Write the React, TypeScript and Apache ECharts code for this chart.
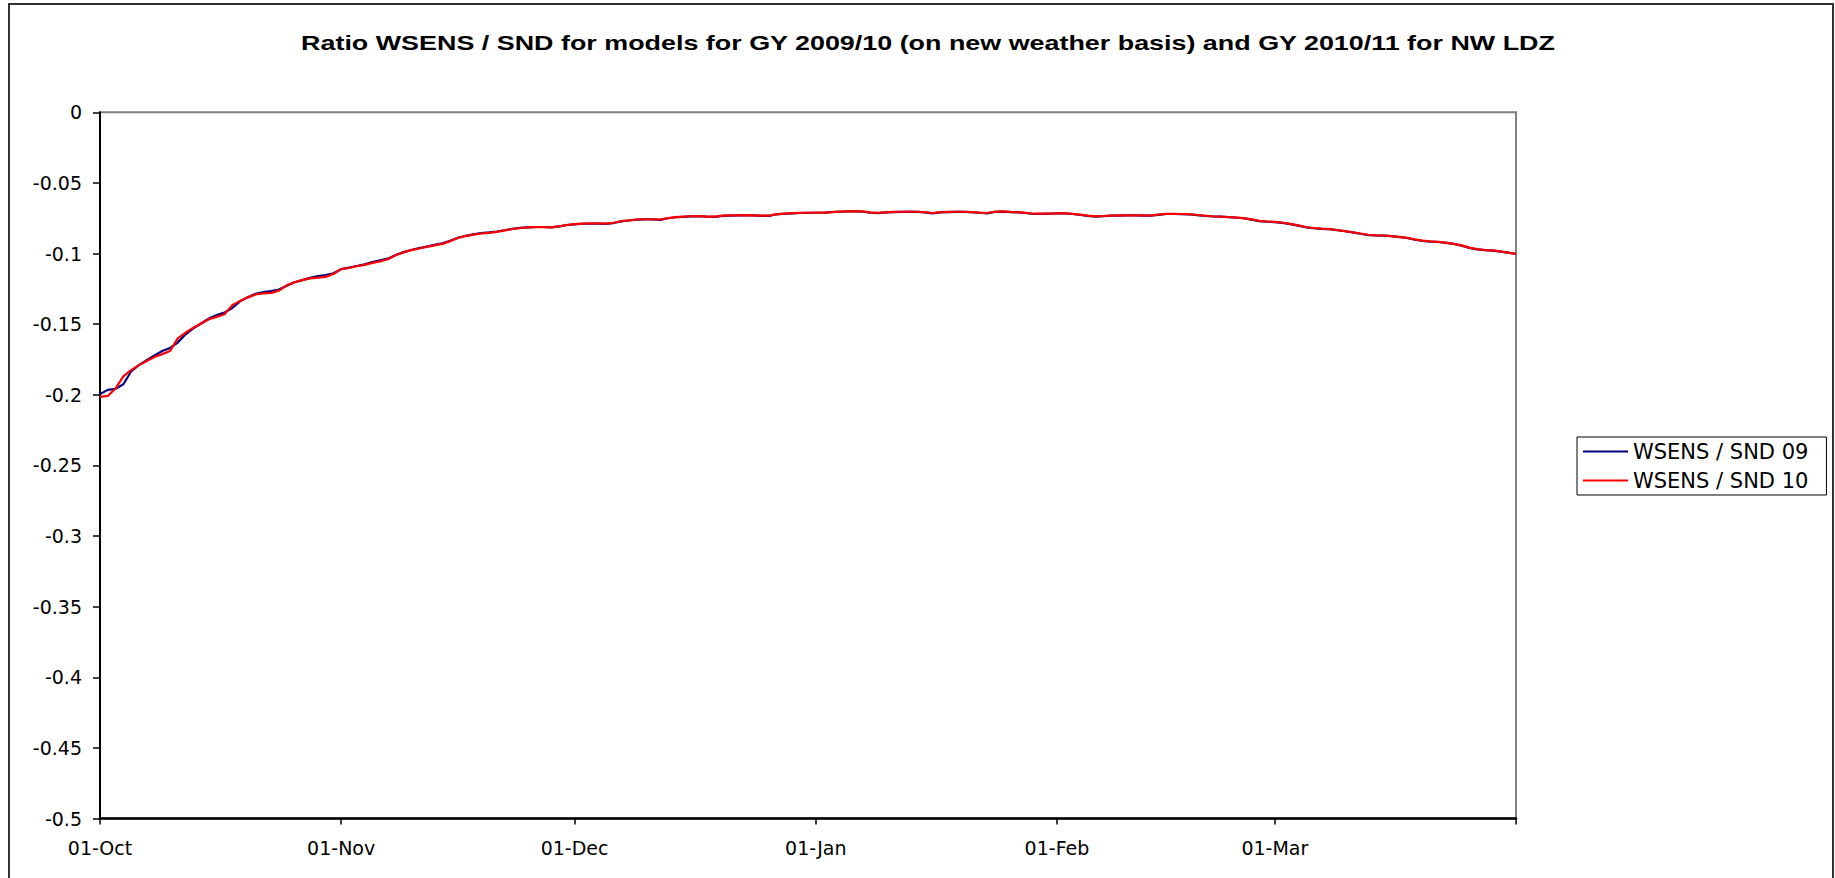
import React, { useEffect, useRef } from "react";
import * as echarts from "echarts";

const TITLE = "Ratio WSENS / SND for models for GY 2009/10 (on new weather basis) and GY 2010/11 for NW LDZ";
const SERIES_NAMES = ["WSENS / SND 09", "WSENS / SND 10"];
const MONTHS = ["Oct", "Nov", "Dec", "Jan", "Feb", "Mar", "Apr"];
const MONTH_DAYS = [31, 30, 31, 31, 28, 31, 1];
const Y_MIN = -0.5;
const Y_MAX = 0;
const Y_STEP = 0.05;

const wsens09 = [
  -0.1995, -0.1965, -0.1958, -0.1925, -0.1835, -0.1790, -0.1755, -0.1722, -0.1690, -0.1668,
  -0.1630, -0.1572, -0.1530, -0.1495, -0.1460, -0.1435, -0.1418, -0.1385, -0.1338, -0.1310,
  -0.1285, -0.1273, -0.1265, -0.1255, -0.1228, -0.1203, -0.1188, -0.1172, -0.1160, -0.1153,
  -0.1140, -0.1110, -0.1100, -0.1088, -0.1076, -0.1060, -0.1048, -0.1036, -0.1010, -0.0990,
  -0.0975, -0.0962, -0.0950, -0.0938, -0.0928, -0.0910, -0.0888, -0.0874, -0.0864, -0.0855,
  -0.0850, -0.0844, -0.0835, -0.0825, -0.0818, -0.0815, -0.0812, -0.0812, -0.0814, -0.0808,
  -0.0798, -0.0793, -0.0789, -0.0789, -0.0788, -0.0790, -0.0784, -0.0772, -0.0766, -0.0760,
  -0.0758, -0.0758, -0.0761, -0.0750, -0.0743, -0.0740, -0.0737, -0.0736, -0.0739, -0.0741,
  -0.0733, -0.0731, -0.0730, -0.0729, -0.0730, -0.0733, -0.0733, -0.0722, -0.0718, -0.0715,
  -0.0713, -0.0712, -0.0711, -0.0711, -0.0707, -0.0704, -0.0702, -0.0701, -0.0703, -0.0711,
  -0.0714, -0.0709, -0.0706, -0.0705, -0.0704, -0.0705, -0.0708, -0.0715, -0.0708, -0.0706,
  -0.0705, -0.0705, -0.0707, -0.0711, -0.0715, -0.0705, -0.0703, -0.0706, -0.0708, -0.0713,
  -0.0720, -0.0719, -0.0718, -0.0716, -0.0715, -0.0720, -0.0727, -0.0734, -0.0739, -0.0735,
  -0.0732, -0.0731, -0.0730, -0.0730, -0.0731, -0.0732, -0.0726, -0.0720, -0.0720, -0.0721,
  -0.0722, -0.0728, -0.0734, -0.0737, -0.0739, -0.0742, -0.0746, -0.0750, -0.0760, -0.0770,
  -0.0774, -0.0777, -0.0783, -0.0792, -0.0802, -0.0814, -0.0821, -0.0825, -0.0828, -0.0834,
  -0.0842, -0.0850, -0.0860, -0.0869, -0.0872, -0.0873, -0.0877, -0.0883, -0.0890, -0.0902,
  -0.0911, -0.0915, -0.0918, -0.0924, -0.0932, -0.0944, -0.0960, -0.0971, -0.0976, -0.0979,
  -0.0986, -0.0994, -0.1003,
];

const wsens10 = [
  -0.2015, -0.2008, -0.1955, -0.1870, -0.1825, -0.1790, -0.1760, -0.1732, -0.1712, -0.1690,
  -0.1600, -0.1560, -0.1525, -0.1495, -0.1465, -0.1448, -0.1430, -0.1365, -0.1335, -0.1310,
  -0.1290, -0.1282, -0.1278, -0.1262, -0.1225, -0.1203, -0.1188, -0.1176, -0.1170, -0.1165,
  -0.1145, -0.1110, -0.1102, -0.1090, -0.1080, -0.1066, -0.1055, -0.1040, -0.1012, -0.0992,
  -0.0976, -0.0964, -0.0953, -0.0942, -0.0932, -0.0912, -0.0890, -0.0876, -0.0866, -0.0858,
  -0.0853, -0.0847, -0.0836, -0.0826, -0.0819, -0.0815, -0.0813, -0.0813, -0.0815, -0.0808,
  -0.0798, -0.0792, -0.0788, -0.0787, -0.0787, -0.0788, -0.0782, -0.0771, -0.0765, -0.0759,
  -0.0757, -0.0757, -0.0759, -0.0749, -0.0742, -0.0739, -0.0736, -0.0735, -0.0738, -0.0739,
  -0.0732, -0.0730, -0.0729, -0.0728, -0.0729, -0.0731, -0.0731, -0.0721, -0.0717, -0.0714,
  -0.0712, -0.0711, -0.0710, -0.0710, -0.0706, -0.0703, -0.0701, -0.0700, -0.0702, -0.0709,
  -0.0712, -0.0708, -0.0705, -0.0704, -0.0703, -0.0704, -0.0707, -0.0713, -0.0707, -0.0705,
  -0.0704, -0.0704, -0.0706, -0.0710, -0.0713, -0.0704, -0.0702, -0.0705, -0.0707, -0.0712,
  -0.0718, -0.0718, -0.0717, -0.0715, -0.0714, -0.0719, -0.0725, -0.0732, -0.0737, -0.0734,
  -0.0731, -0.0730, -0.0729, -0.0729, -0.0730, -0.0731, -0.0725, -0.0719, -0.0719, -0.0720,
  -0.0721, -0.0727, -0.0732, -0.0736, -0.0738, -0.0741, -0.0745, -0.0749, -0.0758, -0.0768,
  -0.0773, -0.0776, -0.0782, -0.0790, -0.0800, -0.0812, -0.0819, -0.0824, -0.0827, -0.0833,
  -0.0841, -0.0849, -0.0858, -0.0867, -0.0871, -0.0872, -0.0876, -0.0882, -0.0889, -0.0900,
  -0.0909, -0.0914, -0.0917, -0.0923, -0.0931, -0.0942, -0.0958, -0.0969, -0.0975, -0.0978,
  -0.0985, -0.0993, -0.1002,
];

const categories: string[] = [];
MONTHS.forEach((m, i) => {
  for (let d = 1; d <= MONTH_DAYS[i]; d++) {
    categories.push((d < 10 ? "0" + d : String(d)) + "-" + m);
  }
});

const FONT = "DejaVu Sans";

export default function App() {
  const ref = useRef<HTMLDivElement>(null);
  useEffect(() => {
    if (!ref.current) return;
    const chart = echarts.init(ref.current, undefined, { renderer: "svg" });
    const lastCat = categories[categories.length - 1];
    chart.setOption({
      animation: false,
      backgroundColor: "#ffffff",
      graphic: [
        {
          type: "polyline",
          silent: true,
          shape: { points: [[9, 900], [9, 4], [1833, 4], [1833, 900]] },
          style: { stroke: "#333333", lineWidth: 2, fill: null },
        },
        {
          type: "text",
          x: 928,
          y: 43,
          scaleX: 1.345,
          style: {
            text: TITLE,
            fontFamily: "Liberation Sans",
            fontWeight: "bold",
            fontSize: 20,
            fill: "#000000",
            align: "center",
            verticalAlign: "middle",
          },
        },
      ],
      grid: {
        left: 100,
        top: 112.3,
        width: 1416,
        height: 706.3,
        show: true,
        borderColor: "#808080",
        borderWidth: 2,
        backgroundColor: "transparent",
        containLabel: false,
        outerBoundsMode: "none",
      },
      legend: {
        orient: "vertical",
        left: 1577,
        top: 437,
        icon: "rect",
        itemWidth: 45,
        itemHeight: 2,
        itemGap: 8,
        padding: [4, 18, 4, 6],
        borderColor: "#000000",
        borderWidth: 1,
        backgroundColor: "#ffffff",
        textStyle: { fontFamily: FONT, fontSize: 21, color: "#000000" },
        data: SERIES_NAMES,
      },
      xAxis: {
        type: "category",
        data: categories,
        boundaryGap: false,
        axisLine: { show: true, onZero: false, lineStyle: { color: "#000000", width: 2.5 } },
        axisTick: {
          show: true,
          length: 6,
          interval: (_i: number, v: string) => v.startsWith("01-"),
          lineStyle: { color: "#000000", width: 1.5 },
        },
        axisLabel: {
          show: true,
          interval: (_i: number, v: string) => v.startsWith("01-") && v !== lastCat,
          margin: 20,
          fontFamily: FONT,
          fontSize: 19,
          color: "#000000",
        },
        splitLine: { show: false },
      },
      yAxis: {
        type: "value",
        min: Y_MIN,
        max: Y_MAX,
        interval: Y_STEP,
        axisLine: { show: true, lineStyle: { color: "#000000", width: 2 } },
        axisTick: { show: true, length: 7, lineStyle: { color: "#000000", width: 1.5 } },
        axisLabel: {
          margin: 18,
          fontFamily: FONT,
          fontSize: 19,
          color: "#000000",
        },
        splitLine: { show: false },
      },
      series: [
        {
          name: SERIES_NAMES[0],
          type: "line",
          data: wsens09,
          symbol: "none",
          showSymbol: false,
          lineStyle: { color: "#000080", width: 2.2 },
          itemStyle: { color: "#000080" },
        },
        {
          name: SERIES_NAMES[1],
          type: "line",
          data: wsens10,
          symbol: "none",
          showSymbol: false,
          lineStyle: { color: "#ff0000", width: 2.2 },
          itemStyle: { color: "#ff0000" },
        },
      ],
    });
    return () => chart.dispose();
  }, []);
  return (
    <div
      ref={ref}
      style={{ position: "absolute", left: 0, top: 0, width: 1835, height: 878 }}
    />
  );
}
